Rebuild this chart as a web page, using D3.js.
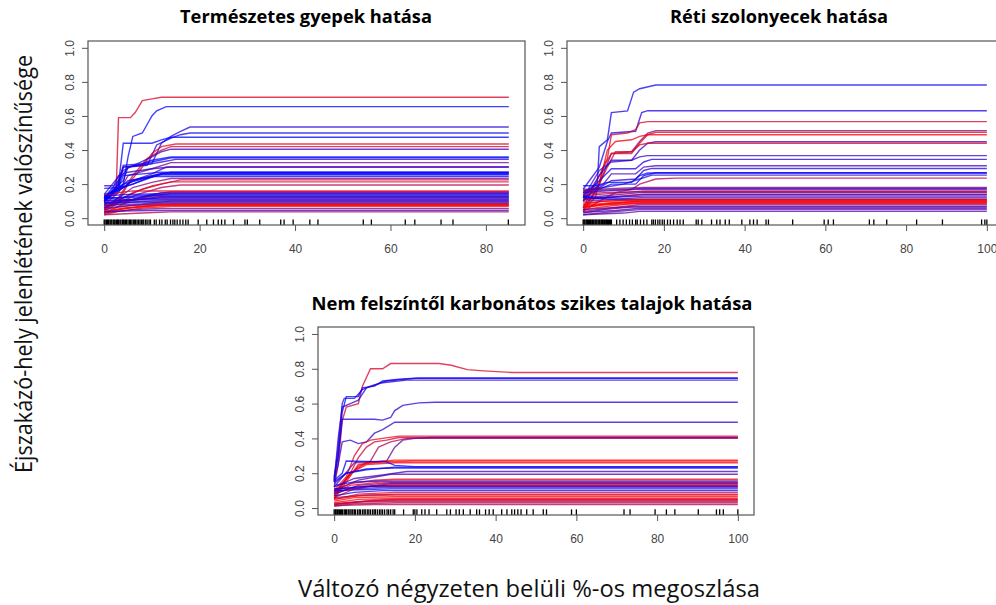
<!DOCTYPE html>
<html>
<head>
<meta charset="utf-8">
<script src="https://cdn.jsdelivr.net/npm/d3@7"></script>
<style>
  body { margin: 0; background: #fff; }
  svg { display: block; }
</style>
</head>
<body>
<div id="chart"></div>
<script>
// panel titles and axis texts
const titles = ["Természetes gyepek hatása", "Réti szolonyecek hatása", "Nem felszíntől karbonátos szikes talajok hatása"];
const yLabel = "Éjszakázó-hely jelenlétének valószínűsége";
const xLabel = "Változó négyzeten belüli %-os megoszlása";

const xMaxes = [84.8, 100, 100];
const xTicks = [[0, 20, 40, 60, 80], [0, 20, 40, 60, 80, 100], [0, 20, 40, 60, 80, 100]];
const yTicks = [0, 0.2, 0.4, 0.6, 0.8, 1.0];

// ICE curves: [tone (0 = red, 1 = blue), knots [x, y]]; last value kept to the end of the range
const curves1 = [
  [0.15, [[0,0.13],[2.5,0.15],[3,0.59],[5.5,0.59],[6.5,0.62],[8,0.69],[10,0.70],[12,0.71]]],
  [1, [[0,0.12],[4,0.2],[5,0.36],[6,0.48],[8,0.5],[9,0.55],[10,0.6],[11,0.63],[13,0.655]]],
  [0.85, [[0,0.1],[3,0.18],[4,0.3],[10,0.32],[12,0.44],[14,0.48],[16,0.51],[18,0.535]]],
  [0.95, [[0,0.12],[4,0.22],[5,0.3],[9,0.31],[11,0.43],[14,0.47],[16,0.49],[18,0.5]]],
  [1, [[0,0.11],[3,0.2],[4,0.44],[10,0.44],[12,0.46],[14,0.475]]],
  [0.1, [[0,0.06],[3,0.1],[5,0.2],[8,0.3],[10,0.38],[12,0.42],[15,0.435]]],
  [0.2, [[0,0.05],[3,0.12],[6,0.25],[9,0.35],[12,0.40],[14,0.42]]],
  [0.75, [[0,0.14],[4,0.28],[7,0.32],[10,0.36],[12,0.39],[14,0.405]]],
  [1, [[0,0.1],[3,0.2],[4,0.31],[8,0.32],[10,0.34],[14,0.36]]],
  [1, [[0,0.12],[3,0.22],[5,0.3],[10,0.33],[14,0.355]]],
  [0.85, [[0,0.09],[2,0.15],[4,0.3],[8,0.31],[12,0.33],[15,0.345]]],
  [0.55, [[0,0.08],[3,0.15],[5,0.25],[10,0.29],[14,0.326]]],
  [0.8, [[0,0.19],[2,0.19],[3,0.25],[5,0.27],[10,0.29],[14,0.3]]],
  [0.7, [[0,0.1],[3,0.16],[6,0.22],[10,0.26],[13,0.3]]],
  [1, [[0,0.175],[3,0.18],[4,0.25],[8,0.26],[12,0.27]]],
  [1, [[0,0.12],[3,0.17],[5,0.22],[9,0.24],[12,0.263]]],
  [0.95, [[0,0.14],[3,0.16],[6,0.22],[10,0.25],[14,0.27]]],
  [1, [[0,0.13],[4,0.18],[8,0.22],[12,0.26]]],
  [1, [[0,0.11],[4,0.2],[8,0.23],[12,0.255]]],
  [0.95, [[0,0.1],[3,0.18],[6,0.2],[10,0.245]]],
  [0.5, [[0,0.07],[3,0.12],[6,0.18],[10,0.21],[14,0.233]]],
  [0.25, [[0,0.06],[4,0.12],[8,0.17],[12,0.2],[16,0.225]]],
  [0.1, [[0,0.05],[3,0.1],[6,0.15],[10,0.19],[14,0.213]]],
  [0.3, [[0,0.04],[3,0.09],[7,0.14],[12,0.18],[16,0.195]]],
  [0.2, [[0,0.135],[2,0.14],[3,0.15],[6,0.16],[10,0.16]]],
  [0.15, [[0,0.03],[3,0.07],[6,0.11],[10,0.14],[14,0.155]]],
  [0.65, [[0,0.09],[6,0.11],[12,0.15]]],
  [0.5, [[0,0.06],[4,0.1],[10,0.13],[14,0.145]]],
  [1, [[0,0.13],[5,0.14],[10,0.142]]],
  [1, [[0,0.12],[3,0.12],[6,0.13],[10,0.135]]],
  [0.6, [[0,0.085],[5,0.1],[12,0.128]]],
  [1, [[0,0.115],[4,0.12],[8,0.125]]],
  [0.5, [[0,0.08],[4,0.1],[8,0.115],[12,0.12]]],
  [0.9, [[0,0.105],[6,0.11],[12,0.118]]],
  [0.9, [[0,0.1],[5,0.105],[10,0.11]]],
  [0.6, [[0,0.07],[6,0.095],[12,0.105]]],
  [0.7, [[0,0.075],[8,0.085],[14,0.1]]],
  [1, [[0,0.09],[8,0.095]]],
  [0.45, [[0,0.05],[4,0.07],[10,0.085],[14,0.09]]],
  [0.55, [[0,0.06],[6,0.075],[14,0.085]]],
  [0, [[0,0.03],[3,0.05],[8,0.07],[14,0.08]]],
  [0.1, [[0,0.035],[5,0.06],[12,0.078]]],
  [0, [[0,0.04],[4,0.06],[12,0.075]]],
  [0.05, [[0,0.02],[3,0.04],[8,0.06],[14,0.07]]],
  [0.55, [[0,0.03],[6,0.05],[12,0.057]]],
  [0.75, [[0,0.04],[10,0.045]]],
  [0.3, [[0,0.02],[8,0.03],[14,0.037]]]
];

const curves2 = [
  [0.95, [[0,0.15],[3.5,0.2],[4,0.42],[6,0.46],[7,0.62],[11,0.63],[12.5,0.74],[14,0.76],[18,0.782]]],
  [0.9, [[0,0.17],[4,0.3],[6,0.45],[7,0.5],[13,0.51],[14.5,0.62],[16,0.631]]],
  [0.15, [[0,0.06],[4,0.25],[6,0.35],[7,0.49],[11,0.5],[13,0.52],[14,0.56],[16,0.567]]],
  [0.5, [[0,0.1],[4,0.2],[7,0.38],[12,0.39],[14,0.45],[16,0.5],[18,0.514]]],
  [0.1, [[0,0.05],[3,0.12],[5,0.3],[7,0.38],[12,0.38],[14,0.44],[16,0.49],[18,0.504]]],
  [0.05, [[0,0.04],[4,0.2],[6,0.4],[8,0.45],[12,0.46],[14,0.48],[16,0.49]]],
  [0.8, [[0,0.12],[4,0.28],[7,0.33],[12,0.34],[14,0.4],[16,0.44],[18,0.449]]],
  [0.15, [[0,0.06],[3,0.15],[6,0.3],[8,0.39],[12,0.39],[14,0.43],[16,0.44]]],
  [0.8, [[0,0.1],[4,0.25],[7,0.34],[12,0.34],[14,0.36],[16,0.367]]],
  [0.9, [[0,0.13],[4,0.22],[7,0.29],[13,0.29],[15,0.33],[17,0.345]]],
  [0.75, [[0,0.15],[5,0.2],[7,0.26],[13,0.26],[15,0.3],[18,0.308]]],
  [0.85, [[0,0.14],[4,0.18],[7,0.22],[13,0.23],[15,0.28],[17,0.292]]],
  [1, [[0,0.12],[4,0.17],[7,0.2],[13,0.2],[15,0.25],[18,0.267]]],
  [1, [[0,0.19],[3,0.19],[6,0.21],[12,0.21],[14,0.25],[16,0.265]]],
  [0.85, [[0,0.16],[5,0.18],[10,0.2],[14,0.23],[17,0.253]]],
  [0.3, [[0,0.04],[4,0.1],[8,0.15],[12,0.17],[14,0.2],[18,0.23],[23,0.235]]],
  [0.55, [[0,0.17],[4,0.17],[8,0.175],[15,0.18]]],
  [0.45, [[0,0.16],[6,0.165],[15,0.175]]],
  [0.8, [[0,0.15],[6,0.16],[14,0.17]]],
  [0.3, [[0,0.14],[5,0.15],[14,0.155]]],
  [0.4, [[0,0.13],[4,0.14],[10,0.15],[15,0.16]]],
  [0.6, [[0,0.12],[5,0.13],[14,0.15]]],
  [0.2, [[0,0.11],[6,0.12],[15,0.14]]],
  [0.5, [[0,0.11],[7,0.125],[14,0.14]]],
  [1, [[0,0.13],[3,0.12],[10,0.125],[15,0.13]]],
  [0.5, [[0,0.1],[7,0.11],[14,0.12]]],
  [1, [[0,0.12],[4,0.115],[12,0.11]]],
  [0.1, [[0,0.08],[5,0.1],[14,0.105]]],
  [0.1, [[0,0.09],[6,0.1],[14,0.11]]],
  [0, [[0,0.06],[5,0.08],[12,0.095]]],
  [0, [[0,0.07],[8,0.09],[14,0.1]]],
  [0, [[0,0.075],[6,0.09],[14,0.098]]],
  [0.05, [[0,0.05],[6,0.07],[14,0.09]]],
  [0.05, [[0,0.065],[6,0.08],[14,0.088]]],
  [0.4, [[0,0.04],[7,0.06],[14,0.08]]],
  [0.6, [[0,0.05],[6,0.06],[14,0.07]]],
  [0.6, [[0,0.03],[5,0.05],[12,0.065]]],
  [0.8, [[0,0.035],[8,0.045],[14,0.058]]],
  [0.5, [[0,0.02],[6,0.035],[14,0.05]]],
  [0.7, [[0,0.02],[10,0.03],[14,0.04]]]
];

const curves3 = [
  [0.15, [[0,0.12],[1,0.25],[2,0.5],[3,0.58],[6,0.6],[7,0.7],[9,0.8],[12,0.8],[14,0.83],[26,0.83],[29,0.82],[33,0.795],[37,0.788],[44,0.779]]],
  [1, [[0,0.18],[1,0.3],[2,0.55],[3,0.64],[6,0.64],[7,0.69],[10,0.70],[12,0.73],[16,0.74],[21,0.747]]],
  [0.9, [[0,0.17],[1,0.35],[2,0.6],[2.5,0.63],[5,0.63],[7,0.68],[9,0.7],[13,0.73],[20,0.745]]],
  [0.85, [[0,0.15],[1,0.4],[2,0.58],[4,0.6],[6,0.62],[8,0.69],[12,0.72],[18,0.735]]],
  [0.85, [[0,0.16],[1,0.3],[2,0.51],[10,0.51],[12,0.505],[14,0.52],[15,0.56],[17,0.59],[21,0.604],[25,0.608]]],
  [0.8, [[0,0.15],[1,0.25],[2,0.38],[4,0.39],[6,0.37],[8,0.38],[10,0.43],[12,0.45],[15,0.493]]],
  [0.1, [[0,0.1],[3,0.18],[5,0.3],[7,0.37],[9,0.39],[12,0.4],[16,0.413]]],
  [0.2, [[0,0.08],[4,0.2],[6,0.29],[8,0.35],[10,0.38],[13,0.39],[16,0.405]]],
  [0.3, [[0,0.09],[6,0.24],[9,0.27],[11,0.35],[14,0.38],[18,0.4]]],
  [0.6, [[0,0.12],[5,0.26],[13,0.27],[15,0.35],[17,0.39],[20,0.4],[24,0.405]]],
  [0, [[0,0.05],[3,0.15],[6,0.25],[12,0.265],[20,0.27]]],
  [0, [[0,0.06],[4,0.2],[8,0.26],[15,0.275]]],
  [0.05, [[0,0.07],[4,0.2],[8,0.25],[15,0.26]]],
  [1, [[0,0.16],[2,0.2],[3,0.27],[13,0.265],[15,0.245],[20,0.238]]],
  [1, [[0,0.15],[3,0.2],[8,0.225],[15,0.23]]],
  [0.95, [[0,0.14],[3,0.2],[8,0.22],[15,0.235]]],
  [0.75, [[0,0.12],[5,0.17],[12,0.19],[18,0.21]]],
  [0.7, [[0,0.1],[6,0.16],[14,0.194]]],
  [0.1, [[0,0.1],[4,0.14],[10,0.16],[15,0.165]]],
  [0.9, [[0,0.13],[5,0.15],[12,0.155]]],
  [0.1, [[0,0.09],[4,0.13],[12,0.15]]],
  [0.45, [[0,0.08],[6,0.13],[14,0.145]]],
  [0.9, [[0,0.11],[6,0.115],[14,0.14]]],
  [0, [[0,0.06],[5,0.11],[10,0.13],[15,0.135]]],
  [0.4, [[0,0.08],[5,0.12],[12,0.128]]],
  [1, [[0,0.11],[8,0.125]]],
  [0.55, [[0,0.09],[4,0.11],[12,0.118]]],
  [1, [[0,0.1],[6,0.105],[14,0.11]]],
  [0.9, [[0,0.07],[5,0.09],[12,0.1]]],
  [0.1, [[0,0.05],[6,0.08],[15,0.09]]],
  [0.5, [[0,0.06],[8,0.075],[16,0.08]]],
  [0, [[0,0.05],[6,0.07],[15,0.075]]],
  [0, [[0,0.04],[5,0.06],[15,0.065]]],
  [0, [[0,0.03],[6,0.05],[15,0.055]]],
  [0.25, [[0,0.025],[10,0.045],[16,0.05]]],
  [0.2, [[0,0.02],[8,0.04],[14,0.045]]],
  [0.3, [[0,0.02],[6,0.035],[14,0.038]]],
  [0.3, [[0,0.01],[5,0.025],[15,0.03]]],
  [0.3, [[0,0.015],[10,0.02]]]
];

// rug marks (observed values of the variable)
const rug1 = [0,0.2,0.5,0.7,0.9,1.2,1.4,1.6,1.9,2.1,2.3,2.6,2.8,3.0,3.3,3.5,3.8,4.0,4.2,4.5,4.7,5.0,5.3,5.5,5.8,6.1,6.4,6.6,6.9,7.2,7.5,7.8,8.1,8.3,8.7,9.0,9.4,9.7,
  10.5,10.9,11.6,12.1,12.8,13.2,13.9,14.4,14.8,15.3,15.9,16.5,17.1,17.6,19.7,21.5,22.9,23.9,24.6,25.3,27.1,29.5,30.0,32.6,37.0,37.7,39.6,43.1,44.8,54.3,56.0,63.1,65.1,70.6,73.1,84.7];
const rug2 = [0,0.2,0.4,0.7,0.9,1.1,1.3,1.6,1.8,2.0,2.3,2.5,2.7,3.0,3.2,3.4,3.7,3.9,4.1,4.4,4.6,4.8,5.1,5.3,5.6,5.8,6.0,6.3,6.5,6.8,7.0,
  8.3,9.1,9.9,10.7,11.5,12.2,13.0,13.4,14.2,15.0,15.8,17.0,17.4,17.9,18.5,19.0,19.6,20.1,20.9,21.6,22.4,23.3,24.0,24.8,28.0,28.5,29.4,31.8,33.1,33.9,35.2,36.2,
  39.3,41.3,42.2,43.1,45.3,45.9,51.9,59.7,60.7,62.0,70.9,72.0,75.2,82.6,89.0,98.7,99.5,100];
const rug3 = [0,0.3,0.5,0.8,1.0,1.3,1.6,1.8,2.1,2.5,2.8,3.1,3.5,3.9,4.2,4.6,5.0,5.3,5.8,6.2,6.5,7.0,7.4,7.7,8.2,8.6,9.0,9.5,9.9,10.2,10.7,11.2,11.6,12.0,12.5,13.1,13.5,14.0,14.6,15.0,
  17.2,19.6,20.0,20.5,21.7,22.5,23.5,25.4,27.9,28.8,30.2,31.0,32.0,33.7,35.3,36.0,37.5,38.4,39.4,41.5,42.8,44.0,44.7,45.5,46.3,47.7,49.3,51.8,52.6,
  58.8,60.0,71.8,73.3,79.5,82.3,84.4,90.2,94.7,95.5,96.4,100];

// layout of the three plot boxes
const boxes = [
  { left: 88, top: 41, right: 525, bottom: 225 },
  { left: 567, top: 41, right: 1003, bottom: 225 },
  { left: 318, top: 327, right: 754, bottom: 515 }
];
const titlePos = [
  { x: 306, y: 23, w: 252 },
  { x: 779, y: 23, w: 218 },
  { x: 532, y: 310, w: 441 }
];

const allCurves = [curves1, curves2, curves3];
const allRugs = [rug1, rug2, rug3];

const width = 996, height = 605;
const toneColor = d3.interpolateRgb("#ff0000", "#0000ff");

const svg = d3.select("#chart").append("svg")
  .attr("width", width)
  .attr("height", height)
  .style("font-family", "'Liberation Sans', Arial, sans-serif");

svg.append("rect").attr("width", width).attr("height", height).attr("fill", "#fff");

boxes.forEach((b, i) => {
  const xMax = xMaxes[i];
  const x = d3.scaleLinear().domain([-0.04 * xMax, 1.04 * xMax]).range([b.left, b.right]);
  const y = d3.scaleLinear().domain([-0.04, 1.04]).range([b.bottom, b.top]);
  const g = svg.append("g");

  // curves
  const line = d3.line().x(d => x(d[0])).y(d => y(d[1]));
  g.append("g")
    .selectAll("path")
    .data(allCurves[i])
    .enter().append("path")
    .attr("d", d => {
      const pts = d[1].slice();
      pts.push([xMax, pts[pts.length - 1][1]]);
      return line(pts);
    })
    .attr("fill", "none")
    .attr("stroke", d => toneColor(d[0]))
    .attr("stroke-opacity", 0.75)
    .attr("stroke-width", 1.4);

  // rug
  const rugLen = (b.bottom - b.top) * 0.03;
  g.append("g")
    .selectAll("line")
    .data(allRugs[i])
    .enter().append("line")
    .attr("x1", d => x(d)).attr("x2", d => x(d))
    .attr("y1", b.bottom).attr("y2", b.bottom - rugLen)
    .attr("stroke", "#000")
    .attr("stroke-width", 1.3);

  // axes
  const xAxis = g.append("g")
    .attr("transform", `translate(0,${b.bottom})`)
    .call(d3.axisBottom(x).tickValues(xTicks[i]).tickSize(6).tickSizeOuter(0).tickFormat(d3.format("d")));
  xAxis.select(".domain").remove();
  xAxis.selectAll("line").attr("stroke", "#555");
  xAxis.selectAll("text").attr("y", 19).attr("fill", "#444").style("font-size", "12px");

  const yAxis = g.append("g")
    .attr("transform", `translate(${b.left},0)`)
    .call(d3.axisLeft(y).tickValues(yTicks).tickSize(6).tickSizeOuter(0).tickFormat(d3.format(".1f")));
  yAxis.select(".domain").remove();
  yAxis.selectAll("line").attr("stroke", "#555");
  yAxis.selectAll("text")
    .attr("transform", "rotate(-90)")
    .attr("x", 0).attr("y", -14.5).attr("dy", null)
    .attr("text-anchor", "middle")
    .attr("fill", "#444")
    .style("font-size", "12px");

  // box
  g.append("rect")
    .attr("x", b.left).attr("y", b.top)
    .attr("width", b.right - b.left).attr("height", b.bottom - b.top)
    .attr("fill", "none")
    .attr("stroke", "#555")
    .attr("stroke-width", 1.2);

  // title
  svg.append("text")
    .attr("x", titlePos[i].x).attr("y", titlePos[i].y)
    .attr("text-anchor", "middle")
    .attr("textLength", titlePos[i].w)
    .attr("lengthAdjust", "spacingAndGlyphs")
    .style("font-family", "'Open Sans', 'Noto Sans', sans-serif")
    .style("font-weight", "bold")
    .style("font-size", "18px")
    .attr("fill", "#000")
    .text(titles[i]);
});

// shared axis labels
svg.append("text")
  .attr("transform", "translate(32,264) rotate(-90)")
  .attr("text-anchor", "middle")
  .attr("textLength", 418)
  .attr("lengthAdjust", "spacingAndGlyphs")
  .style("font-family", "'Open Sans', 'Noto Sans', sans-serif")
  .style("font-size", "24px")
  .attr("fill", "#111")
  .text(yLabel);

svg.append("text")
  .attr("x", 529).attr("y", 597)
  .attr("text-anchor", "middle")
  .attr("textLength", 462)
  .attr("lengthAdjust", "spacingAndGlyphs")
  .style("font-family", "'Open Sans', 'Noto Sans', sans-serif")
  .style("font-size", "23px")
  .attr("fill", "#111")
  .text(xLabel);
</script>
</body>
</html>
